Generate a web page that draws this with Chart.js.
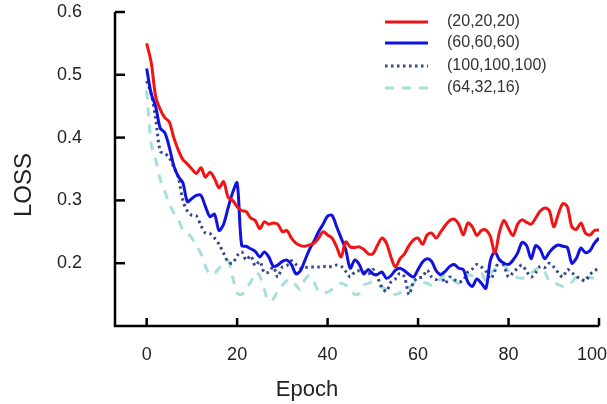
<!DOCTYPE html>
<html>
<head>
  <title>LOSS vs Epoch</title>
  <script src="https://cdn.jsdelivr.net/npm/chart.js"></script>
  <style>
    html, body { margin: 0; padding: 0; background: #fff; }
    #wrap { width: 607px; height: 404px; }
  </style>
</head>
<body>
  <div id="wrap"><canvas id="lossChart" width="607" height="404"></canvas></div>

  <script>
    const epochs = [
      0, 1, 2, 3, 4, 5, 6, 7, 8, 9, 10, 11, 12, 13, 14, 15, 16, 17, 18, 19,
      20, 21, 22, 23, 24, 25, 26, 27, 28, 29, 30, 31, 32, 33, 34, 35, 36, 37, 38, 39,
      40, 41, 42, 43, 44, 45, 46, 47, 48, 49, 50, 51, 52, 53, 54, 55, 56, 57, 58, 59,
      60, 61, 62, 63, 64, 65, 66, 67, 68, 69, 70, 71, 72, 73, 74, 75, 76, 77, 78, 79,
      80, 81, 82, 83, 84, 85, 86, 87, 88, 89, 90, 91, 92, 93, 94, 95, 96, 97, 98, 99, 100
    ];

    const loss20 = [
      0.550, 0.520, 0.465, 0.445, 0.432, 0.425, 0.400, 0.380, 0.365, 0.358,
      0.350, 0.343, 0.352, 0.337, 0.345, 0.335, 0.320, 0.330, 0.305, 0.300,
      0.290, 0.284, 0.282, 0.272, 0.268, 0.255, 0.266, 0.262, 0.264, 0.262,
      0.250, 0.252, 0.240, 0.232, 0.228, 0.227, 0.229, 0.232, 0.240, 0.250,
      0.245, 0.240, 0.226, 0.210, 0.234, 0.226, 0.225, 0.226, 0.222, 0.215,
      0.215, 0.228, 0.240, 0.232, 0.210, 0.194, 0.207, 0.215, 0.228, 0.237,
      0.240, 0.230, 0.245, 0.248, 0.240, 0.250, 0.260, 0.268, 0.270, 0.262,
      0.245, 0.264, 0.258, 0.244, 0.252, 0.253, 0.242, 0.216, 0.250, 0.268,
      0.255, 0.244, 0.262, 0.269, 0.265, 0.262, 0.272, 0.283, 0.288, 0.284,
      0.258, 0.278, 0.295, 0.290, 0.258, 0.254, 0.264, 0.248, 0.245, 0.252, 0.253
    ];

    const loss60 = [
      0.510, 0.470, 0.449, 0.415, 0.408, 0.385, 0.355, 0.338, 0.328, 0.298,
      0.303, 0.308, 0.308, 0.290, 0.274, 0.278, 0.252, 0.262, 0.288, 0.312,
      0.328, 0.228, 0.227, 0.223, 0.219, 0.210, 0.218, 0.210, 0.195, 0.197,
      0.203, 0.205, 0.198, 0.183, 0.188, 0.205, 0.222, 0.235, 0.250, 0.262,
      0.275, 0.276, 0.258, 0.240, 0.222, 0.192, 0.205, 0.198, 0.183, 0.190,
      0.183, 0.182, 0.186, 0.176, 0.180, 0.189, 0.192, 0.188, 0.182, 0.178,
      0.190, 0.202, 0.207, 0.203, 0.188, 0.182, 0.187, 0.195, 0.198, 0.192,
      0.190, 0.170, 0.163, 0.175, 0.168, 0.160, 0.205, 0.218, 0.205, 0.200,
      0.198, 0.205, 0.216, 0.233, 0.228, 0.207, 0.228, 0.222, 0.207, 0.217,
      0.225, 0.229, 0.227, 0.225, 0.200, 0.208, 0.224, 0.217, 0.220, 0.232, 0.240
    ];

    const loss100 = [
      0.490, 0.470, 0.430, 0.378, 0.375, 0.368, 0.353, 0.337, 0.300, 0.283,
      0.276, 0.275, 0.260, 0.248, 0.247, 0.240, 0.230, 0.216, 0.202, 0.200,
      0.212, 0.218, 0.205, 0.212, 0.196, 0.203, 0.185, 0.186, 0.194, 0.178,
      0.194, 0.196, 0.204, 0.198, 0.192, 0.193, 0.194, 0.194, 0.194, 0.195,
      0.194, 0.195, 0.197, 0.195, 0.187, 0.178, 0.186, 0.188, 0.186, 0.182,
      0.190, 0.178, 0.162, 0.155, 0.170, 0.175, 0.184, 0.178, 0.150, 0.170,
      0.177, 0.178, 0.189, 0.178, 0.174, 0.181, 0.168, 0.178, 0.174, 0.170,
      0.173, 0.186, 0.191, 0.198, 0.194, 0.187, 0.175, 0.188, 0.205, 0.196,
      0.178, 0.185, 0.192, 0.197, 0.187, 0.178, 0.185, 0.195, 0.193, 0.200,
      0.194, 0.185, 0.178, 0.190, 0.185, 0.179, 0.175, 0.172, 0.182, 0.188, 0.192
    ];

    const loss643216 = [
      0.475, 0.390, 0.365, 0.333, 0.315, 0.295, 0.280, 0.270, 0.253, 0.248,
      0.240, 0.228, 0.215, 0.195, 0.182, 0.184, 0.192, 0.197, 0.204, 0.178,
      0.153, 0.150, 0.160, 0.170, 0.185, 0.180, 0.158, 0.140, 0.143, 0.157,
      0.165, 0.172, 0.174, 0.165, 0.158, 0.174, 0.180, 0.170, 0.155, 0.153,
      0.154, 0.158, 0.163, 0.168, 0.165, 0.160, 0.150, 0.152, 0.165, 0.168,
      0.170, 0.166, 0.162, 0.158, 0.156, 0.150, 0.153, 0.155, 0.160, 0.168,
      0.170, 0.169, 0.168, 0.165, 0.168, 0.176, 0.181, 0.178, 0.172, 0.168,
      0.175, 0.181, 0.180, 0.182, 0.184, 0.172, 0.184, 0.190, 0.197, 0.196,
      0.188, 0.182, 0.177, 0.176, 0.178, 0.184, 0.190, 0.193, 0.186, 0.172,
      0.170, 0.166, 0.163, 0.164, 0.170, 0.178, 0.177, 0.177, 0.177, 0.176, 0.176
    ];

    const seriesNames = ['(20,20,20)', '(60,60,60)', '(100,100,100)', '(64,32,16)'];
    const xTicks = [0, 20, 40, 60, 80, 100];
    const yTicks = [0.2, 0.3, 0.4, 0.5, 0.6];

    const FONT = '"Liberation Sans", Arial, sans-serif';

    function toPoints(values) {
      return values.map((v, i) => ({ x: epochs[i], y: v }));
    }

    // axes, ticks, titles and legend drawn like the paper figure (ticks point inward)
    const paperAxes = {
      id: 'paperAxes',
      afterDraw(chart) {
        const { ctx, chartArea: a, scales: { x, y } } = chart;
        ctx.save();
        ctx.strokeStyle = '#000';
        ctx.lineWidth = 2.5;
        ctx.beginPath();
        ctx.moveTo(a.left, a.top);
        ctx.lineTo(a.left, a.bottom);
        ctx.lineTo(a.right, a.bottom);
        ctx.stroke();

        ctx.fillStyle = '#222';
        ctx.font = '18px ' + FONT;

        // y ticks
        ctx.textAlign = 'right';
        ctx.textBaseline = 'middle';
        yTicks.forEach(v => {
          const py = y.getPixelForValue(v);
          ctx.beginPath();
          ctx.moveTo(a.left, py);
          ctx.lineTo(a.left + 10, py);
          ctx.stroke();
          ctx.fillText(v.toFixed(1), a.left - 33, py);
        });

        // x ticks
        ctx.textAlign = 'center';
        ctx.textBaseline = 'middle';
        xTicks.forEach(v => {
          const px = x.getPixelForValue(v);
          ctx.beginPath();
          ctx.moveTo(px, a.bottom);
          ctx.lineTo(px, a.bottom - 8);
          ctx.stroke();
          const w = ctx.measureText(String(v)).width;
          const lx = Math.min(px, chart.width - w / 2);
          ctx.fillText(String(v), lx, a.bottom + 29);
        });

        // axis titles
        ctx.font = '22px ' + FONT;
        ctx.fillText('Epoch', 307, 390);
        ctx.save();
        ctx.translate(24, 185);
        ctx.rotate(-Math.PI / 2);
        ctx.font = '24px ' + FONT;
        ctx.fillText('LOSS', 0, 0);
        ctx.restore();

        // legend
        const rows = [22, 43, 66, 88];
        ctx.font = '16px ' + FONT;
        ctx.textAlign = 'left';
        chart.data.datasets.forEach((ds, i) => {
          ctx.save();
          ctx.strokeStyle = ds.borderColor;
          ctx.lineWidth = ds.borderWidth;
          ctx.setLineDash(ds.borderDash || []);
          ctx.beginPath();
          ctx.moveTo(385, rows[i]);
          ctx.lineTo(428, rows[i]);
          ctx.stroke();
          ctx.restore();
          ctx.fillStyle = '#333';
          ctx.fillText(ds.label, 447, rows[i]);
        });
        ctx.restore();
      }
    };

    new Chart(document.getElementById('lossChart').getContext('2d'), {
      type: 'line',
      data: {
        datasets: [
          { label: seriesNames[0], data: toPoints(loss20), borderColor: '#f21414', borderWidth: 3 },
          { label: seriesNames[1], data: toPoints(loss60), borderColor: '#1212e0', borderWidth: 3 },
          { label: seriesNames[2], data: toPoints(loss100), borderColor: '#34468c', borderWidth: 3, borderDash: [2.5, 3.5] },
          { label: seriesNames[3], data: toPoints(loss643216), borderColor: '#a6e0da', borderWidth: 3, borderDash: [9, 8] }
        ]
      },
      options: {
        responsive: false,
        animation: false,
        layout: { padding: { left: 115, right: 8, top: 12, bottom: 78 } },
        elements: {
          point: { radius: 0 },
          line: { tension: 0.3, fill: false }
        },
        plugins: {
          legend: { display: false },
          tooltip: { enabled: false }
        },
        scales: {
          x: { type: 'linear', min: -7, max: 100, display: false },
          y: { type: 'linear', min: 0.1, max: 0.6, display: false }
        }
      },
      plugins: [paperAxes]
    });
  </script>
</body>
</html>
